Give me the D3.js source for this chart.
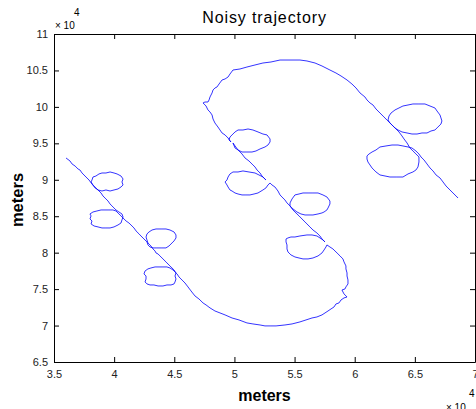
<!DOCTYPE html>
<html lang="en">
<head>
<meta charset="UTF-8">
<title>Noisy trajectory</title>
<script src="https://d3js.org/d3.v7.min.js"></script>
<style>
    body { margin: 0; padding: 0; background: #fff; }
    svg { display: block; font-family: "Liberation Sans", Arial, sans-serif; }
    .axis path, .axis line { stroke: #000; }
    .axis text { font-size: 11px; fill: #222; }
</style>
</head>
<body>
<div id="chart"></div>
<script>
// tick values, in units of 10^4 meters
const xTicks = [3.5, 4, 4.5, 5, 5.5, 6, 6.5, 7];
const yTicks = [6.5, 7, 7.5, 8, 8.5, 9, 9.5, 10, 10.5, 11];

// trajectory pieces (x, y in 10^4 m), in order of travel
// lower-left leg with its four small loops
const legSouthWest = [
    [3.600,9.299],[3.633,9.258],[3.650,9.217],[3.675,9.189],[3.700,9.148],[3.716,9.134],[3.733,9.093],[3.766,9.038],[3.791,8.997],[3.816,8.942],
    [3.841,8.888],[3.866,8.860],[3.899,8.846],[3.932,8.860],[3.966,8.846],[3.999,8.860],[4.032,8.874],[4.057,8.901],[4.074,8.929],[4.065,8.970],
    [4.074,9.011],[4.057,9.052],[4.024,9.080],[3.999,9.093],[3.966,9.107],[3.932,9.093],[3.899,9.093],[3.874,9.080],[3.849,9.052],[3.824,9.038],
    [3.816,8.997],[3.808,8.970],[3.824,8.929],
    [3.849,8.888],[3.874,8.846],[3.891,8.819],[3.907,8.778],[3.932,8.737],[3.949,8.709],[3.966,8.668],[3.982,8.641],[3.999,8.613],[4.015,8.586],
    [4.040,8.558],[4.065,8.531],[4.074,8.490],[4.065,8.449],[4.057,8.407],[4.032,8.380],[3.999,8.353],[3.966,8.339],[3.932,8.339],[3.899,8.339],
    [3.866,8.353],[3.833,8.366],[3.808,8.394],[3.816,8.435],[3.799,8.462],[3.808,8.504],[3.799,8.531],[3.824,8.558],[3.857,8.572],[3.891,8.586],
    [3.924,8.586],[3.957,8.586],[3.990,8.586],[4.015,8.572],
    [4.040,8.531],[4.057,8.504],[4.082,8.462],[4.099,8.435],[4.123,8.407],[4.140,8.380],[4.165,8.339],[4.182,8.298],[4.207,8.257],[4.223,8.229],
    [4.248,8.188],[4.273,8.147],
    [4.281,8.106],[4.298,8.078],[4.323,8.065],[4.356,8.065],[4.390,8.065],[4.431,8.065],[4.456,8.092],[4.481,8.133],[4.498,8.161],[4.514,8.202],
    [4.514,8.243],[4.498,8.284],[4.464,8.311],[4.431,8.325],[4.390,8.325],[4.348,8.325],[4.315,8.311],[4.290,8.284],[4.273,8.257],[4.265,8.215],
    [4.273,8.174],[4.281,8.133],
    [4.306,8.092],[4.323,8.051],[4.340,8.023],[4.348,7.996],[4.365,7.982],[4.381,7.955],[4.398,7.927],[4.406,7.914],[4.431,7.873],[4.439,7.859],
    [4.464,7.818],[4.481,7.790],
    [4.498,7.763],[4.514,7.722],[4.506,7.680],[4.514,7.639],[4.506,7.598],[4.498,7.571],[4.473,7.557],[4.439,7.557],[4.406,7.543],[4.365,7.543],
    [4.331,7.557],[4.298,7.557],[4.273,7.571],[4.257,7.598],[4.265,7.639],[4.265,7.680],[4.248,7.708],[4.257,7.749],[4.281,7.777],[4.306,7.790],
    [4.340,7.804],[4.373,7.804],[4.406,7.804],[4.439,7.804],[4.464,7.790],[4.489,7.763],
    [4.506,7.735],[4.523,7.708],[4.539,7.667],[4.556,7.639],[4.572,7.612],[4.589,7.584],[4.614,7.530]
];

// bottom turn
const arcBottom = [
    [4.639,7.475],[4.672,7.406],[4.705,7.365],[4.739,7.310],[4.764,7.283],[4.797,7.242],[4.838,7.200],[4.880,7.173],[4.922,7.146],[4.980,7.104],
    [5.038,7.077],[5.104,7.036],[5.154,7.022],[5.213,7.008],[5.254,6.995],[5.296,6.995],[5.346,6.995],[5.420,7.008],[5.479,7.022],[5.545,7.050],
    [5.595,7.077],[5.645,7.104],[5.686,7.118],[5.728,7.146],[5.753,7.173],[5.778,7.200],[5.803,7.228],[5.828,7.255],[5.844,7.296],[5.869,7.310],
    [5.886,7.351],[5.911,7.379],[5.936,7.392],[5.911,7.434],[5.894,7.488],[5.919,7.502],[5.927,7.530],[5.944,7.571],[5.944,7.626],[5.936,7.680],
    [5.936,7.722],[5.927,7.777],[5.927,7.818],[5.911,7.873],[5.902,7.914],[5.878,7.955],[5.853,7.996],[5.836,8.023],[5.819,8.051],[5.794,8.078],
    [5.769,8.106]
];

// middle leg, going up-left, with four loops
const legMiddle = [
    [5.761,8.078],[5.745,8.037],[5.728,7.996],[5.695,7.955],[5.653,7.927],[5.612,7.914],[5.570,7.914],[5.537,7.927],[5.503,7.941],[5.470,7.969],
    [5.445,8.010],[5.437,8.051],[5.437,8.106],[5.429,8.147],[5.429,8.188],[5.445,8.202],[5.470,8.215],[5.503,8.215],[5.545,8.229],[5.603,8.243],
    [5.645,8.243],[5.686,8.229],[5.711,8.202],[5.736,8.174],[5.753,8.147],
    [5.728,8.188],[5.711,8.229],[5.686,8.270],[5.653,8.311],[5.628,8.353],[5.603,8.394],[5.587,8.421],[5.562,8.462],[5.537,8.504],[5.520,8.531],
    [5.503,8.558],[5.479,8.600],[5.462,8.641],
    [5.462,8.682],[5.479,8.737],[5.503,8.792],[5.537,8.805],[5.570,8.819],[5.612,8.819],[5.653,8.819],[5.695,8.819],[5.736,8.792],[5.769,8.764],
    [5.794,8.709],[5.794,8.668],[5.778,8.613],[5.769,8.586],[5.745,8.558],[5.728,8.545],[5.695,8.531],[5.653,8.517],[5.620,8.517],[5.587,8.517],
    [5.553,8.531],[5.520,8.558],[5.487,8.600],[5.462,8.641],
    [5.437,8.682],[5.420,8.723],[5.395,8.764],[5.379,8.792],[5.362,8.846],[5.337,8.901],[5.312,8.929],[5.296,8.956],
    [5.279,8.929],[5.262,8.888],[5.237,8.860],[5.196,8.819],[5.163,8.805],[5.129,8.792],[5.096,8.792],[5.063,8.792],[5.030,8.805],[5.005,8.819],
    [4.980,8.846],[4.963,8.860],[4.947,8.901],[4.938,8.929],[4.922,8.970],[4.938,8.997],[4.947,9.038],[4.963,9.080],[4.988,9.107],[5.030,9.107],
    [5.071,9.121],[5.121,9.107],[5.171,9.093],[5.204,9.066],[5.237,9.038],[5.262,8.997],
    [5.229,9.052],[5.213,9.093],[5.188,9.134],[5.171,9.176],[5.154,9.203],[5.121,9.258],[5.088,9.299],[5.063,9.354],[5.030,9.409],[5.005,9.464],
    [4.988,9.505],
    [5.005,9.436],[5.030,9.409],[5.063,9.381],[5.104,9.381],[5.146,9.381],[5.179,9.395],[5.213,9.423],[5.254,9.450],[5.279,9.477],[5.296,9.519],
    [5.296,9.560],[5.271,9.615],[5.237,9.628],[5.196,9.656],[5.154,9.683],[5.113,9.697],[5.071,9.683],[5.030,9.683],[5.005,9.656],[4.988,9.628],
    [4.963,9.587],[4.955,9.546],[4.971,9.519],
    [4.947,9.573],[4.922,9.615],[4.897,9.642],[4.880,9.683],[4.863,9.724],[4.838,9.779],[4.822,9.834],[4.814,9.889],[4.797,9.930],[4.780,9.958],
    [4.764,10.012],[4.739,10.054],[4.755,10.067],[4.780,10.067],[4.789,10.095],[4.797,10.136],[4.814,10.191],[4.822,10.232],[4.838,10.259],[4.855,10.273],
    [4.872,10.314],[4.897,10.369],[4.922,10.383],[4.947,10.410],[4.963,10.451],[4.988,10.506]
];

// top turn
const arcTop = [
    [5.046,10.520],[5.104,10.547],[5.171,10.575],[5.237,10.602],[5.304,10.616],[5.379,10.643],[5.462,10.643],[5.545,10.643],[5.603,10.630],[5.670,10.602],
    [5.728,10.561],[5.794,10.506],[5.844,10.465],[5.886,10.424],[5.936,10.369],[5.977,10.314],[6.011,10.259],[6.044,10.191],[6.085,10.136],[6.102,10.095]
];

// upper-right leg with two larger loops
const legNorthEast = [
    [6.127,10.054],[6.152,10.026],[6.177,9.971],[6.210,9.916],[6.243,9.862],[6.268,9.820],[6.293,9.779],[6.310,9.752],
    [6.335,9.711],[6.360,9.683],[6.393,9.656],[6.435,9.642],[6.476,9.628],[6.518,9.628],[6.559,9.642],[6.601,9.642],[6.634,9.669],[6.667,9.683],
    [6.692,9.724],[6.717,9.765],[6.725,9.807],[6.717,9.848],[6.709,9.889],[6.684,9.944],[6.667,9.985],[6.626,10.012],[6.584,10.040],[6.534,10.040],
    [6.484,10.040],[6.443,10.026],[6.401,10.012],[6.368,9.985],[6.335,9.958],[6.302,9.916],[6.285,9.875],[6.277,9.820],[6.293,9.779],[6.318,9.738],
    [6.343,9.697],[6.368,9.656],[6.393,9.601],[6.410,9.560],[6.435,9.505],[6.459,9.436],[6.484,9.395],[6.509,9.354],[6.534,9.313],
    [6.534,9.244],[6.526,9.176],[6.509,9.134],[6.484,9.107],[6.443,9.080],[6.401,9.038],[6.351,9.038],[6.293,9.038],[6.252,9.052],[6.210,9.066],
    [6.177,9.107],[6.144,9.162],[6.127,9.203],[6.110,9.244],[6.102,9.285],[6.102,9.327],[6.119,9.354],[6.144,9.381],[6.177,9.409],[6.210,9.450],
    [6.260,9.464],[6.310,9.477],[6.360,9.477],[6.401,9.464],[6.443,9.450],[6.476,9.436],[6.509,9.395],[6.534,9.354],[6.551,9.313],
    [6.576,9.272],[6.601,9.217],[6.626,9.162],[6.651,9.121],[6.676,9.066],[6.709,9.025],[6.734,8.970],[6.759,8.915],[6.792,8.860],[6.817,8.819],
    [6.842,8.778],[6.859,8.750]
];

const track = [].concat(legSouthWest, arcBottom, legMiddle, arcTop, legNorthEast);

const W = 476, H = 409;
const margin = {top: 34, right: 1, bottom: 47, left: 54};
const width = W - margin.left - margin.right, height = H - margin.top - margin.bottom;

const root = d3.select("#chart").append("svg")
    .attr("width", W)
    .attr("height", H);
const svg = root.append("g")
    .attr("transform", `translate(${margin.left},${margin.top})`);

const x = d3.scaleLinear().domain([3.5, 7]).range([0, width]);
const y = d3.scaleLinear().domain([6.5, 11]).range([height, 0]);

const fmt = d => String(d);

// the trajectory
svg.append("path")
    .datum(track)
    .attr("fill", "none")
    .attr("stroke", "#0000ff")
    .attr("stroke-width", 0.8)
    .attr("stroke-linejoin", "round")
    .attr("d", d3.line().x(d => x(d[0])).y(d => y(d[1])));

// box with inward ticks on all four sides
svg.append("g").attr("class", "axis")
    .attr("transform", `translate(0,${height})`)
    .call(d3.axisBottom(x).tickValues(xTicks).tickFormat(fmt).tickSizeInner(-5).tickSizeOuter(0).tickPadding(8));
svg.append("g").attr("class", "axis")
    .call(d3.axisTop(x).tickValues(xTicks).tickFormat("").tickSizeInner(-5).tickSizeOuter(0));
svg.append("g").attr("class", "axis")
    .call(d3.axisLeft(y).tickValues(yTicks).tickFormat(fmt).tickSizeInner(-5).tickSizeOuter(0).tickPadding(6));
svg.append("g").attr("class", "axis")
    .attr("transform", `translate(${width},0)`)
    .call(d3.axisRight(y).tickValues(yTicks).tickFormat("").tickSizeInner(-5).tickSizeOuter(0));

// title and labels
root.append("text")
    .attr("x", margin.left + width / 2)
    .attr("y", 23)
    .attr("text-anchor", "middle")
    .style("font-size", "16px")
    .style("letter-spacing", "0.9px")
    .text("Noisy trajectory");
root.append("text")
    .attr("x", margin.left + width / 2)
    .attr("y", 401)
    .attr("text-anchor", "middle")
    .style("font-size", "16px")
    .style("font-weight", "bold")
    .text("meters");
root.append("text")
    .attr("transform", `translate(23,${margin.top + height / 2 + 2}) rotate(-90)`)
    .attr("text-anchor", "middle")
    .style("font-size", "16.5px")
    .style("font-weight", "bold")
    .text("meters");

// exponent markers
root.append("text").attr("x", 55).attr("y", 29).style("font-size", "10px").text("\u00d7 10");
root.append("text").attr("x", 74).attr("y", 16).style("font-size", "10px").text("4");
root.append("text").attr("x", 469).attr("y", 397).style("font-size", "10px").text("4");
root.append("text").attr("x", 446).attr("y", 411).style("font-size", "10px").text("\u00d7 10");
</script>
</body>
</html>
